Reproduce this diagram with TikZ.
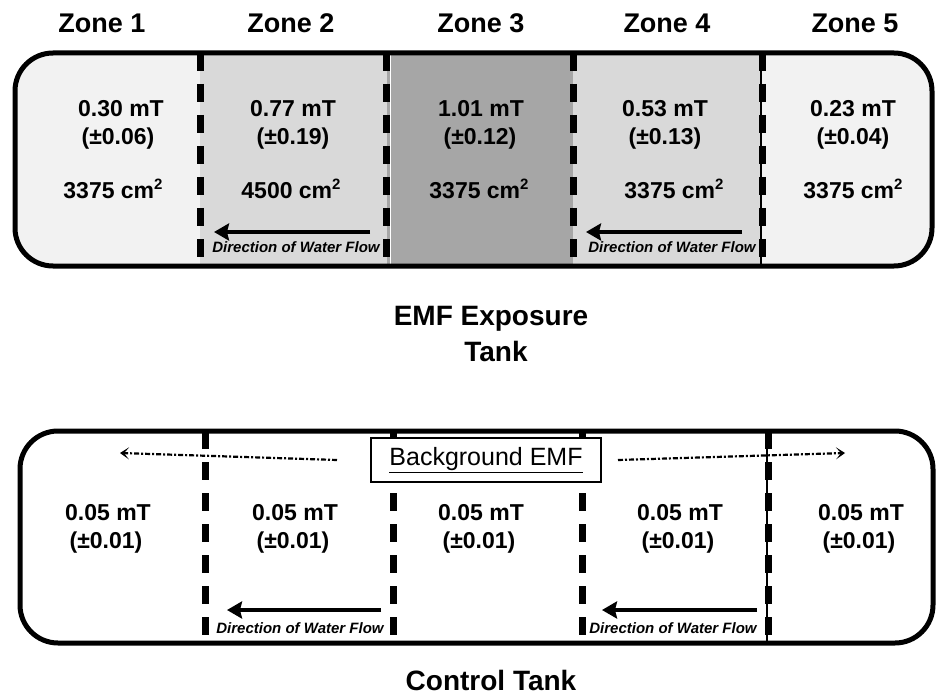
\documentclass[tikz,border=0pt]{standalone}
\usepackage{fontspec}
\setmainfont{Liberation Sans}
\usetikzlibrary{arrows.meta}
\definecolor{zlight}{HTML}{F2F2F2}
\definecolor{zmid}{HTML}{D9D9D9}
\definecolor{zdark}{HTML}{A6A6A6}
\newcommand{\cmsq}{cm\raisebox{0.36em}{\fontsize{15}{15}\selectfont 2}}
\tikzset{
  tank/.style={line width=5pt, rounded corners=38pt},
  divider/.style={line width=7pt, dash pattern=on 18pt off 13pt},
  thinsolid/.style={line width=1.2pt},
  flow/.style={line width=4.5pt, -{Stealth[length=15pt,width=17pt,inset=2pt]}},
  bgarrow/.style={line width=2.2pt, dash pattern=on 5pt off 2pt on 2pt off 2pt, -{Stealth[length=9pt,width=12pt,inset=5pt]}},
  val/.style={font=\fontsize{23}{26}\bfseries\selectfont, inner sep=0pt, anchor=base},
  zonetitle/.style={font=\fontsize{27}{30}\bfseries\selectfont, inner sep=0pt, anchor=base},
  tanktitle/.style={font=\fontsize{28}{36}\bfseries\selectfont, inner sep=0pt, anchor=base},
  flowlabel/.style={font=\fontsize{15}{17}\bfseries\itshape\selectfont, inner sep=0pt, anchor=base},
  bgbox/.style={draw, line width=2.5pt, fill=white, minimum width=230pt, minimum height=44pt, inner sep=0pt, font=\fontsize{25}{28}\selectfont}
}
\begin{document}
\begin{tikzpicture}[x=1pt,y=-1pt]
\useasboundingbox (0,0) rectangle (943,698);
\fill[white] (0,0) rectangle (943,698);

% ---------- Zone titles ----------
\node[zonetitle] (z1) at (102,33) {Zone 1};
\node[zonetitle] (z2) at (291,33) {Zone 2};
\node[zonetitle] (z3) at (481,33) {Zone 3};
\node[zonetitle] (z4) at (667,33) {Zone 4};
\node[zonetitle] (z5) at (855,33) {Zone 5};

% ---------- EMF exposure tank ----------
\begin{scope}
  \clip[rounded corners=38pt] (15,53) rectangle (932,266);
  \fill[zlight] (15,53) rectangle (200,266);
  \fill[zmid]   (200,53) rectangle (387,266);
  \fill[zdark]  (387,53) rectangle (573,266);
  \fill[zmid]   (573,53) rectangle (761,266);
  \fill[zlight] (761,53) rectangle (932,266);
\end{scope}
\draw[white, line width=1pt] (390,53) -- (390,266);
\draw[thinsolid] (761,53) -- (761,266);
\draw[divider] (200,53) -- (200,266);
\draw[divider] (386,53) -- (386,266);
\draw[divider] (573,53) -- (573,266);
\draw[divider] (762,53) -- (762,266);
\draw[tank] (15,53) rectangle (932,266);

\node[val] (e1a) at (121,117) {0.30 mT};
\node[val] (e1b) at (118,145) {(±0.06)};
\node[val] (e1c) at (113,198) {3375 \cmsq};
\node[val] (e2a) at (293,117) {0.77 mT};
\node[val] (e2b) at (293,145) {(±0.19)};
\node[val] (e2c) at (291,198) {4500 \cmsq};
\node[val] (e3a) at (481,117) {1.01 mT};
\node[val] (e3b) at (480,145) {(±0.12)};
\node[val] (e3c) at (479,198) {3375 \cmsq};
\node[val] (e4a) at (665,117) {0.53 mT};
\node[val] (e4b) at (665,145) {(±0.13)};
\node[val] (e4c) at (674,198) {3375 \cmsq};
\node[val] (e5a) at (853,117) {0.23 mT};
\node[val] (e5b) at (853,145) {(±0.04)};
\node[val] (e5c) at (853,198) {3375 \cmsq};

\coordinate (ef2s) at (370,232);
\coordinate (ef2e) at (214,232);
\draw[flow] (ef2s) -- (ef2e);
\node[flowlabel] (el2) at (296,252) {Direction of Water Flow};
\coordinate (ef4s) at (742,232);
\coordinate (ef4e) at (586,232);
\draw[flow] (ef4s) -- (ef4e);
\node[flowlabel] (el4) at (672,252) {Direction of Water Flow};

\node[tanktitle] (etitle) at (491,325) {EMF Exposure};
\node[tanktitle] (etitle2) at (496,361) {Tank};

% ---------- Control tank ----------
\draw[thinsolid] (767,431) -- (767,643);
\draw[divider] (205,431) -- (205,643);
\draw[divider] (393,431) -- (393,643);
\draw[divider] (582,431) -- (582,643);
\draw[divider] (768,431) -- (768,643);
\draw[tank] (20,431) rectangle (933,643);

\node[bgbox] (bg) at (486,460) {\underline{Background EMF}};
\coordinate (bgl) at (120,453);
\coordinate (bgr) at (845,453);
\draw[bgarrow] (bg.west -| 337,453) -- (bgl);
\draw[bgarrow] (bg.east -| 618,453) -- (bgr);

\node[val] (c1a) at (108,520) {0.05 mT};
\node[val] (c1b) at (106,548) {(±0.01)};
\node[val] (c2a) at (295,520) {0.05 mT};
\node[val] (c2b) at (293,548) {(±0.01)};
\node[val] (c3a) at (481,520) {0.05 mT};
\node[val] (c3b) at (479,548) {(±0.01)};
\node[val] (c4a) at (680,520) {0.05 mT};
\node[val] (c4b) at (678,548) {(±0.01)};
\node[val] (c5a) at (861,520) {0.05 mT};
\node[val] (c5b) at (859,548) {(±0.01)};

\coordinate (cf2s) at (381,610);
\coordinate (cf2e) at (227,610);
\draw[flow] (cf2s) -- (cf2e);
\node[flowlabel] (cl2) at (300,633) {Direction of Water Flow};
\coordinate (cf4s) at (757,610);
\coordinate (cf4e) at (602,610);
\draw[flow] (cf4s) -- (cf4e);
\node[flowlabel] (cl4) at (673,633) {Direction of Water Flow};

\node[tanktitle] (ctitle) at (491,690) {Control Tank};
\end{tikzpicture}
\end{document}
